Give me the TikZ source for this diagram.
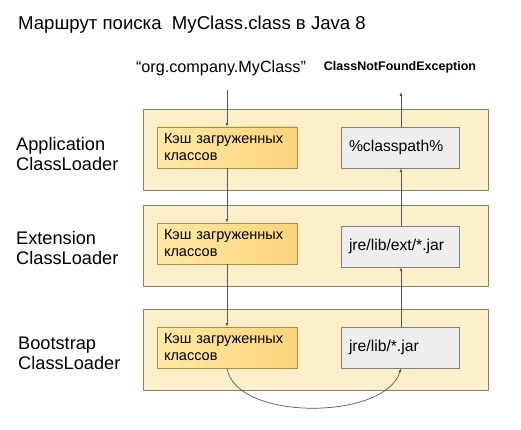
\documentclass[tikz,border=0pt]{standalone}
\usepackage{fontspec}
\setmainfont{Liberation Sans}
\usepackage{xcolor}
\usetikzlibrary{arrows.meta,positioning,calc}

\definecolor{layerfill}{HTML}{FCF0CA}
\definecolor{layerline}{HTML}{8C7E62}
\definecolor{cachetop}{HTML}{FFE9A6}
\definecolor{cachebot}{HTML}{FBD37C}
\definecolor{cacheline}{HTML}{A88E4E}
\definecolor{pathfill}{HTML}{EEEEEE}
\definecolor{pathline}{HTML}{7F7F7F}
\definecolor{flow}{HTML}{555555}

\tikzset{
  layer/.style={draw=layerline, fill=layerfill, minimum width=345, minimum height=81, inner sep=0},
  cache/.style={draw=cacheline, left color=cachetop, right color=cachebot, minimum width=140, minimum height=41,
    text width=126, align=left, inner xsep=7, inner ysep=0, font=\fontsize{14.5}{17}\selectfont},
  srcpath/.style={draw=pathline, fill=pathfill, minimum width=118, minimum height=41,
    text width=102, align=left, inner xsep=8, inner ysep=0, font=\fontsize{15.7}{18}\selectfont},
  loader/.style={anchor=west, align=left, inner sep=0, font=\fontsize{18.2}{20}\selectfont},
  flowline/.style={draw=flow, line width=0.7, -{Latex[length=4,width=3]}}
}

\begin{document}
\begin{tikzpicture}[x=1pt, y=-1pt]
\useasboundingbox (0,0) rectangle (521,430);

% title
\node[anchor=west, inner sep=0, font=\fontsize{18.6}{22}\selectfont] (title) at (18,25) {Маршрут поиска\ \ MyClass.class в Java 8};

% request and result
\node[inner sep=0, font=\fontsize{16.2}{19}\selectfont] (req) at (221,68) {“org.company.MyClass”};
\node[inner sep=0, font=\bfseries\fontsize{12.5}{15}\selectfont] (cnfe) at (400,67) {ClassNotFoundException};
\coordinate (in) at (227,90);
\coordinate (out) at (401,92);

% layers
\node[layer] (appL) at (315.5,149.5) {};
\node[layer] (extL) at (315.5,246) {};
\node[layer] (bootL) at (315.5,350) {};

\node[loader] (appN) at (16,154) {Application\\ClassLoader};
\node[loader] (extN) at (16,248) {Extension\\ClassLoader};
\node[loader] (bootN) at (18,353) {Bootstrap\\ClassLoader};

% caches
\node[cache] (appC) at (227,147.5) {Кэш загруженных\\классов};
\node[cache] (extC) at (227,243.5) {Кэш загруженных\\классов};
\node[cache] (bootC) at (227,347.5) {Кэш загруженных\\классов};

% search paths
\node[srcpath] (appP) at (400,147.5) {\%classpath\%};
\node[srcpath] (extP) at (400,246.5) {jre/lib/ext/*.jar};
\node[srcpath] (bootP) at (400,347.5) {jre/lib/*.jar};

% delegation down
\draw[flowline] (in) -- (appC.north);
\draw[flowline] (appC.south) -- (extC.north);
\draw[flowline] (extC.south) -- (bootC.north);

% search back up
\draw[flowline] (bootC.south) .. controls (235,421) and (385,421) .. ([xshift=1]bootP.south);
\draw[flowline] ([xshift=1]bootP.north) -- ([xshift=1]extP.south);
\draw[flowline] ([xshift=1]extP.north) -- ([xshift=1]appP.south);
\draw[flowline] ([xshift=1]appP.north) -- (out);
\end{tikzpicture}
\end{document}
